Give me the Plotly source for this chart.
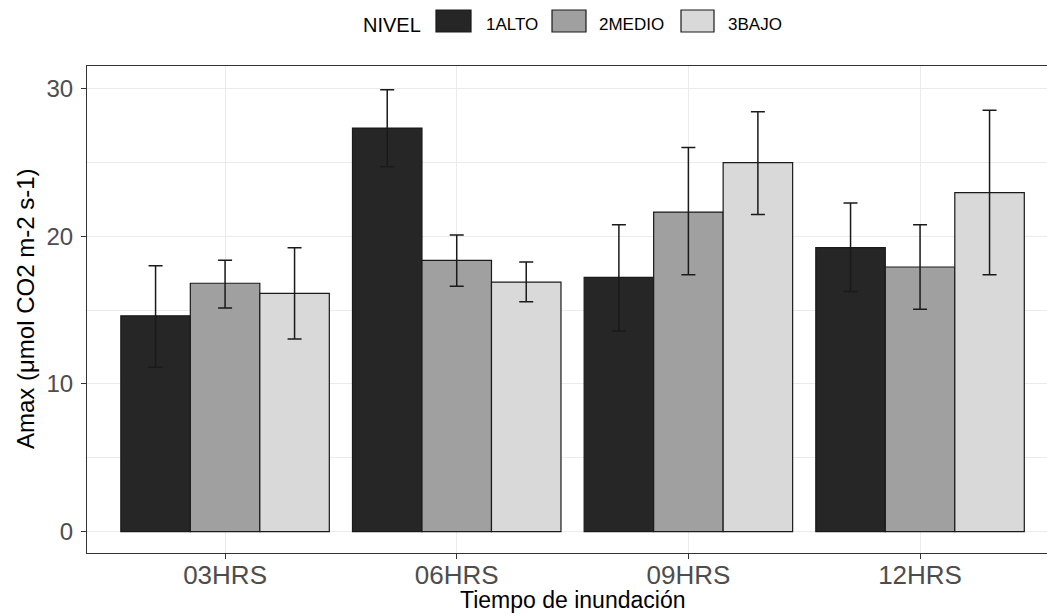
import plotly.graph_objects as go

# ---- data ----
categories = ["03HRS", "06HRS", "09HRS", "12HRS"]
levels = ["1ALTO", "2MEDIO", "3BAJO"]
means = {
    "1ALTO": [14.61, 27.31, 17.21, 19.22],
    "2MEDIO": [16.81, 18.36, 21.63, 17.91],
    "3BAJO": [16.13, 16.89, 24.97, 22.94],
}
upper = {
    "1ALTO": [18.00, 29.90, 20.77, 22.24],
    "2MEDIO": [18.36, 20.07, 26.00, 20.77],
    "3BAJO": [19.22, 18.25, 28.42, 28.51],
}
lower = {
    "1ALTO": [11.12, 24.70, 13.58, 16.26],
    "2MEDIO": [15.13, 16.60, 17.39, 15.05],
    "3BAJO": [13.04, 15.56, 21.47, 17.39],
}
y_ticks = [0, 10, 20, 30]
legend_title = "NIVEL"
x_title = "Tiempo de inundación"
y_title = "Amax (μmol CO2 m-2 s-1)"

# ---- style ----
colors = {"1ALTO": "#262626", "2MEDIO": "#a0a0a0", "3BAJO": "#d9d9d9"}
FONT = "Liberation Sans, Arial, Helvetica, sans-serif"
W, H = 1047, 614
L, R, T, B = 87, 0, 66, 61
PW, PH = W - L - R, H - T - B


def px(xp):
    return (xp - L) / PW


def py(yp):
    return (H - B - yp) / PH


fig = go.Figure()
for lv in levels:
    m = means[lv]
    fig.add_trace(go.Bar(
        x=categories, y=m, name=lv, showlegend=False,
        marker=dict(color=colors[lv], line=dict(color="#1a1a1a", width=1.2)),
        error_y=dict(
            type="data", symmetric=False,
            array=[u - v for u, v in zip(upper[lv], m)],
            arrayminus=[v - d for v, d in zip(m, lower[lv])],
            color="#1a1a1a", thickness=1.5, width=7,
        ),
    ))

fig.update_layout(
    width=W, height=H,
    margin=dict(l=L, r=R, t=T, b=B, pad=0),
    paper_bgcolor="white", plot_bgcolor="white",
    barmode="group", bargap=0.1, bargroupgap=0.0,
    font=dict(family=FONT),
)
fig.update_xaxes(
    type="category", range=[-0.596, 3.548],
    showline=True, linecolor="#333333", linewidth=1, mirror=True,
    ticks="outside", ticklen=5, tickcolor="#333333", tickwidth=1,
    ticklabelstandoff=-6,
    tickfont=dict(size=26, color="#4d4d4d", family=FONT),
    showgrid=True, gridcolor="#ebebeb", gridwidth=1,
    zeroline=False,
)
fig.update_yaxes(
    range=[-1.44, 31.51], tickvals=y_ticks,
    showline=True, linecolor="#333333", linewidth=1, mirror=False,
    ticks="outside", ticklen=5, tickcolor="#333333", tickwidth=1,
    ticklabelstandoff=3,
    tickfont=dict(size=24, color="#4d4d4d", family=FONT),
    showgrid=True, gridcolor="#ebebeb", gridwidth=1,
    minor=dict(dtick=5, tick0=0, showgrid=True, gridcolor="#ebebeb", gridwidth=1, ticks=""),
    zeroline=False,
)

annotations = [
    dict(text=x_title, x=px(572), y=py(600), xref="paper", yref="paper",
         xanchor="center", yanchor="middle", showarrow=False,
         font=dict(size=23, color="black", family=FONT)),
    dict(text=y_title, x=px(25), y=py(309), xref="paper", yref="paper",
         xanchor="center", yanchor="middle", textangle=-90, showarrow=False,
         font=dict(size=24, color="black", family=FONT)),
    dict(text=legend_title, x=px(361), y=py(25), xref="paper", yref="paper",
         xanchor="left", yanchor="middle", showarrow=False,
         font=dict(size=20, color="black", family=FONT)),
]
shapes = []
key_pos = [(436, 471, 484), (552, 586, 597), (681, 714, 726)]
for lv, (k0, k1, tx) in zip(levels, key_pos):
    shapes.append(dict(type="rect", xref="paper", yref="paper",
                       x0=px(k0), x1=px(k1), y0=py(32), y1=py(10),
                       fillcolor=colors[lv], line=dict(color="#1a1a1a", width=1.2)))
    annotations.append(dict(text=lv, x=px(tx), y=py(25), xref="paper", yref="paper",
                            xanchor="left", yanchor="middle", showarrow=False,
                            font=dict(size=17, color="black", family=FONT)))
fig.update_layout(annotations=annotations, shapes=shapes)

fig.write_html("out.html")
